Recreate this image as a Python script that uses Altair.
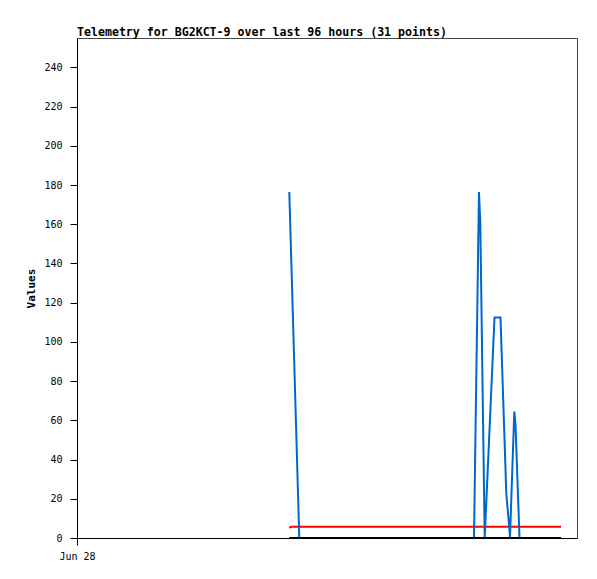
import altair as alt
import pandas as pd

# time axis in hours since start of the 96-hour window (Jun 28 00:00 at 0)
hours = [40.76, 41.09, 42.68, 46.66, 48.58, 51.46, 56.26, 61.06, 65.86, 69.70,
         73.54, 76.22, 77.18, 77.43, 78.28, 80.16, 81.31, 82.43, 82.94, 83.14,
         83.96, 84.19, 84.96, 86.02, 86.98, 87.94, 88.90, 89.86, 90.82, 91.78,
         92.93]
blue_vals = [176.5, 146.5, 0, 0, 0, 0, 0, 0, 0, 0,
             0, 0, 176.5, 161, 0, 112.4, 112.4, 22.5, 7, 0.5,
             64.5, 58, 0, 0, 0, 0, 0, 0, 0, 0,
             0]
red_vals = [5.2] + [5.8] * 30
black_vals = [0] * 31

y_ticks = list(range(0, 241, 20))

rows = []
for h, b, r, k in zip(hours, blue_vals, red_vals, black_vals):
    rows.append({"t": h, "v": r, "s": "red"})
    rows.append({"t": h, "v": b, "s": "blue"})
    rows.append({"t": h, "v": k, "s": "black"})
df = pd.DataFrame(rows)

FONT = "DejaVu Sans Mono"

x_enc = alt.X("t:Q", scale=alt.Scale(domain=[0, 96], nice=False, zero=False),
              axis=alt.Axis(values=[0], labelExpr="'Jun 28'", title=None,
                            grid=False, tickSize=7, labelPadding=6,
                            labelFlush=False, labelAlign="center"))
y_enc = alt.Y("v:Q", scale=alt.Scale(domain=[0, 255], nice=False),
              axis=alt.Axis(values=y_ticks, title="Values", grid=False,
                            tickSize=7, labelPadding=8,
                            titleFont=FONT, titleFontWeight="bold",
                            titleFontSize=11, titleX=-41, titleY=250))

def layer(name, color):
    return alt.Chart(df).transform_filter(alt.datum.s == name).mark_line(
        color=color, strokeWidth=2, clip=True
    ).encode(x=x_enc, y=y_enc)

chart = alt.layer(
    layer("red", "#ff0000"),
    layer("blue", "#0066cc"),
    layer("black", "#000000"),
).properties(
    width=500, height=500,
    title=alt.TitleParams(
        "Telemetry for BG2KCT-9 over last 96 hours (31 points)",
        anchor="start", frame="group", font=FONT, fontSize=11.6,
        fontWeight="bold", offset=-1, color="#000000"),
    autosize=alt.AutoSizeParams(type="none"),
    padding={"left": 69, "top": 30, "right": 12, "bottom": 33},
).configure_view(
    stroke="#444444", strokeWidth=1
).configure_axis(
    domainColor="#000000", tickColor="#000000", labelColor="#000000",
    labelFont=FONT, labelFontSize=10, titleColor="#000000"
)

chart.save("out.html", embed_options={"renderer": "svg", "actions": False})
